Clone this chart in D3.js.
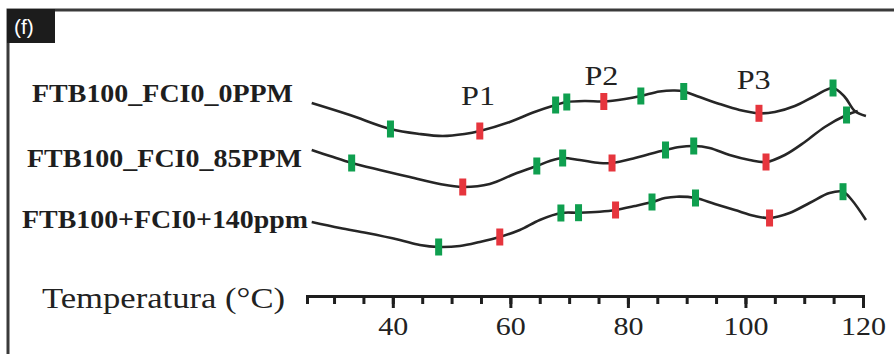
<!DOCTYPE html>
<html>
<head>
<meta charset="utf-8">
<script src="https://cdn.jsdelivr.net/npm/d3@7"></script>
<style>
    body { margin: 0; background: #fff; }
    svg { display: block; }
</style>
</head>
<body>
<div id="chart"></div>
<script>
// sample names
const seriesNames = ["FTB100_FCI0_0PPM", "FTB100_FCI0_85PPM", "FTB100+FCI0+140ppm"];

// temperature (°C) / signal (a.u.)
const temp0 = [26.2, 32.7, 39.6, 44.6, 48.5, 52.2, 54.8, 59.9, 64.1, 67.7, 69.6, 72.7, 75.9, 79.5, 82.2, 85.4, 88.0, 89.5, 92.2, 95.6, 99.0, 102.3, 105.0, 108.4, 111.8, 114.9, 116.9, 118.6, 120.5];
const signal0 = [147, 135, 121, 116, 114, 116, 119, 128, 138, 145, 148, 149, 148.5, 151, 154, 158.5, 159.5, 158.5, 153, 146, 140, 136.7, 138, 144, 154, 162, 153, 139, 134];

const temp1 = [26.2, 29.3, 33.0, 37.8, 42.9, 48.0, 51.9, 56.5, 60.7, 64.5, 66.7, 68.9, 71.8, 75.2, 77.3, 81.2, 83.7, 86.4, 88.8, 91.2, 93.9, 97.3, 100.7, 103.5, 106.7, 110.1, 113.5, 117.2, 119.1];
const signal1 = [100, 94, 87, 80, 73, 66, 63, 66, 76, 84, 89, 92, 90, 87, 87, 92, 96, 100, 103, 104, 102, 95, 90, 88, 95, 108, 123, 135, 139];

const temp2 = [26.2, 31.0, 35.6, 41.2, 44.6, 47.8, 51.4, 54.8, 58.2, 61.6, 65.0, 68.6, 71.6, 75.2, 77.9, 81.2, 84.1, 86.3, 88.3, 91.5, 94.8, 98.2, 101.6, 104.1, 107.5, 110.9, 114.3, 116.6, 118.1, 120.5];
const signal2 = [28, 22, 17, 10, 5, 3, 4, 8, 13, 20, 30, 37, 37.3, 38.3, 40, 44, 48, 52, 53.3, 52, 46, 40, 34, 32, 37, 47, 57, 58.3, 50, 30];

// marked temperatures on each curve
const greenMarks0 = [39.6, 67.7, 69.6, 82.2, 89.5, 114.9];
const redMarks0 = [54.8, 75.9, 102.3];
const greenMarks1 = [33.0, 64.5, 68.9, 86.4, 91.2, 117.2];
const redMarks1 = [51.9, 77.3, 103.5];
const greenMarks2 = [47.8, 68.6, 71.6, 84.1, 91.5, 116.6];
const redMarks2 = [58.2, 77.9, 104.1];

// peak annotations
const peakLabels = ["P1", "P2", "P3"];
const peakTemps = [54.5, 75.5, 101.4];

const minorTicks = d3.range(30, 121, 5);
const majorTicks = [40, 60, 80, 100, 120];

const width = 894, height = 354;
const serif = "'Liberation Serif', 'Times New Roman', Times, serif";

const svg = d3.select("#chart").append("svg")
    .attr("width", width)
    .attr("height", height);

// frame
svg.append("path")
    .attr("d", `M8,354 V10 H894`)
    .attr("fill", "none")
    .attr("stroke", "#3a3a3a")
    .attr("stroke-width", 3);

svg.append("rect")
    .attr("x", 7).attr("y", 9)
    .attr("width", 48).attr("height", 34)
    .attr("fill", "#1c1c1c");

svg.append("text")
    .attr("x", 14).attr("y", 34)
    .attr("fill", "#fff")
    .style("font-family", "'Liberation Sans', Arial, sans-serif")
    .style("font-size", "21px")
    .text("(f)");

const x = d3.scaleLinear().domain([25.4, 120]).range([307, 863]);
const y = d3.scaleLinear().domain([0, 250]).range([250, 0]);

const series = [
    { name: seriesNames[0], temp: temp0, signal: signal0, green: greenMarks0, red: redMarks0 },
    { name: seriesNames[1], temp: temp1, signal: signal1, green: greenMarks1, red: redMarks1 },
    { name: seriesNames[2], temp: temp2, signal: signal2, green: greenMarks2, red: redMarks2 }
];

// label placement (x, baseline, width)
const labelPos = [
    { x: 32, y: 102, w: 261 },
    { x: 27, y: 167, w: 275 },
    { x: 22, y: 228, w: 286 }
];

const line = d3.line()
    .x(d => x(d[0]))
    .y(d => y(d[1]))
    .curve(d3.curveCatmullRom.alpha(0.5));

series.forEach((s, i) => {
    let pts = s.temp.map((t, j) => [t, s.signal[j]]);

    svg.append("path")
        .datum(pts)
        .attr("d", line)
        .attr("fill", "none")
        .attr("stroke", "#262626")
        .attr("stroke-width", 2.6);

    let valueAt = t => {
        let j = d3.minIndex(s.temp, v => Math.abs(v - t));
        return s.signal[j];
    };

    let marks = s.green.map(t => ({ t: t, c: "#0f9f4f" }))
        .concat(s.red.map(t => ({ t: t, c: "#e6353d" })));

    svg.append("g").selectAll("rect")
        .data(marks)
        .enter().append("rect")
        .attr("x", d => x(d.t) - 3.5)
        .attr("y", d => y(valueAt(d.t)) - 8.5)
        .attr("width", 7)
        .attr("height", 17)
        .attr("fill", d => d.c);

    svg.append("text")
        .attr("x", labelPos[i].x)
        .attr("y", labelPos[i].y)
        .attr("textLength", labelPos[i].w)
        .attr("lengthAdjust", "spacingAndGlyphs")
        .attr("fill", "#1e1e1e")
        .style("font-family", serif)
        .style("font-weight", "bold")
        .style("font-size", "25px")
        .text(s.name);
});

// P1..P3
const peakY = [105, 85, 89];
svg.append("g").selectAll("text")
    .data(peakLabels)
    .enter().append("text")
    .attr("x", (d, i) => x(peakTemps[i]))
    .attr("y", (d, i) => peakY[i])
    .attr("text-anchor", "middle")
    .attr("textLength", 34)
    .attr("lengthAdjust", "spacingAndGlyphs")
    .attr("fill", "#222")
    .style("font-family", serif)
    .style("font-size", "27px")
    .text(d => d);

// axis
const axisG = svg.append("g").attr("transform", "translate(0,296)");

axisG.call(d3.axisBottom(x).tickValues(minorTicks).tickSize(8).tickSizeOuter(8).tickFormat(""));
axisG.append("g").call(d3.axisBottom(x).tickValues(majorTicks).tickSize(12).tickSizeOuter(0)
    .tickFormat(d3.format("d")));
axisG.selectAll(".domain").attr("stroke", "#1e1e1e").attr("stroke-width", 3);
axisG.selectAll(".tick line").attr("stroke", "#1e1e1e").attr("stroke-width", 3);
axisG.selectAll(".tick text")
    .attr("y", 21)
    .attr("dy", "0.71em")
    .attr("fill", "#222")
    .attr("textLength", function (d) { return String(d).length * 15; })
    .attr("lengthAdjust", "spacingAndGlyphs")
    .style("font-family", serif)
    .style("font-size", "25px");

svg.append("text")
    .attr("x", 42)
    .attr("y", 308)
    .attr("textLength", 243)
    .attr("lengthAdjust", "spacingAndGlyphs")
    .attr("fill", "#222")
    .style("font-family", serif)
    .style("font-size", "29px")
    .text("Temperatura (°C)");
</script>
</body>
</html>
